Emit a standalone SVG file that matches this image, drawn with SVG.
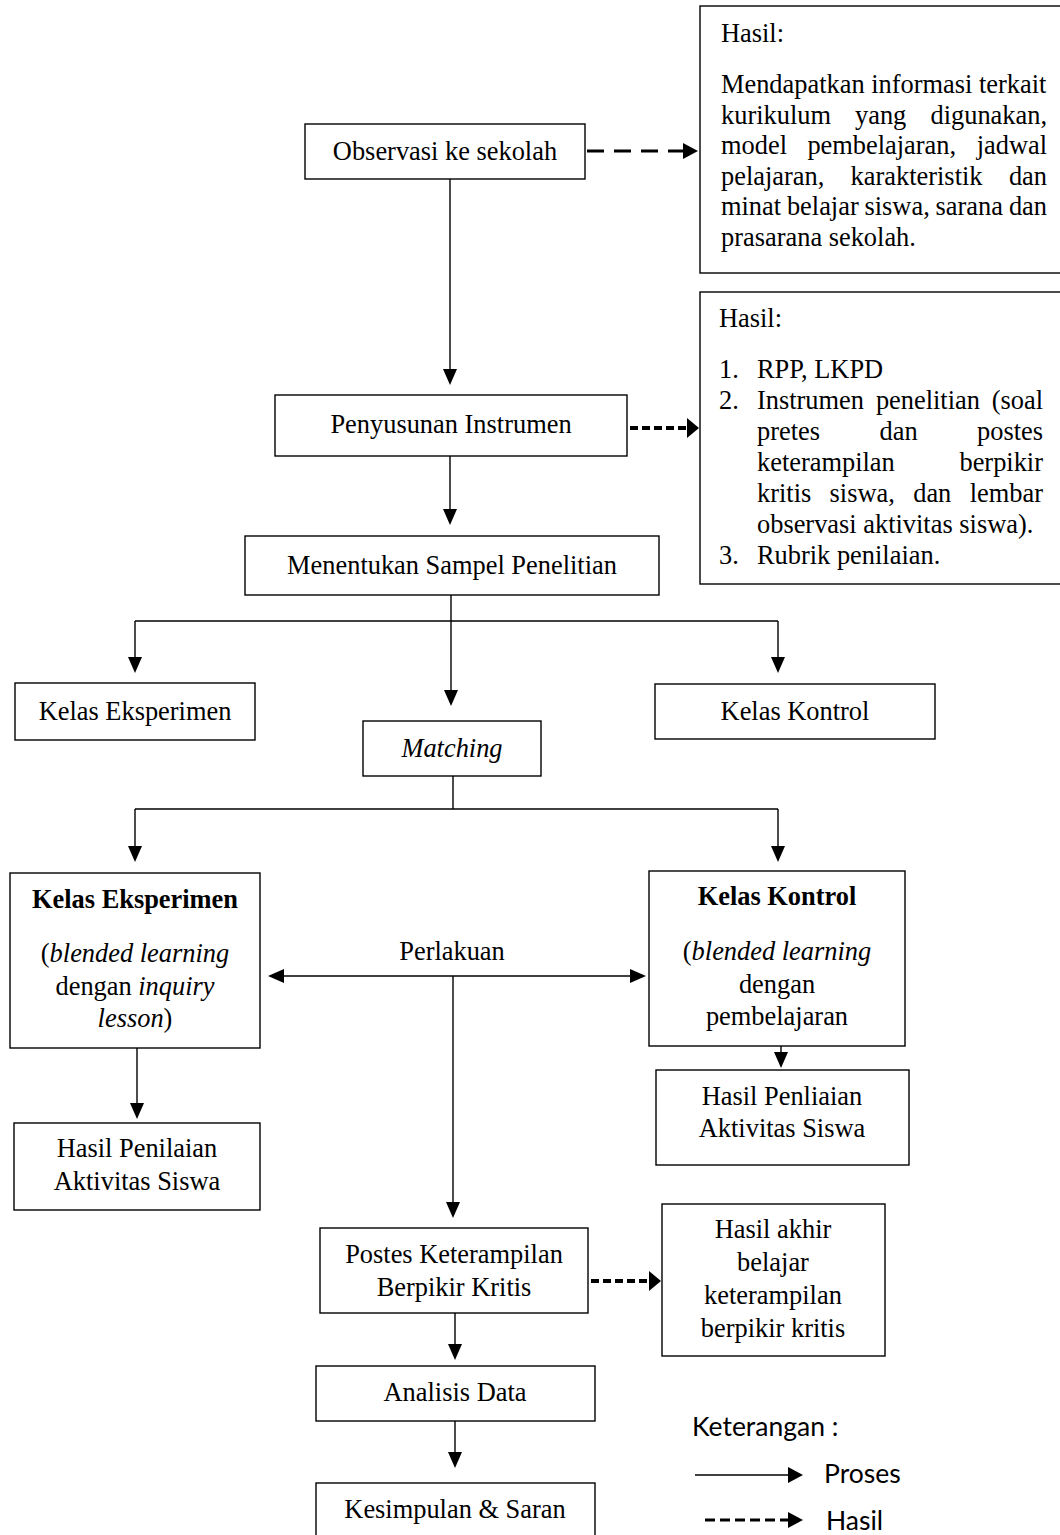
<svg xmlns="http://www.w3.org/2000/svg" width="1060" height="1535" viewBox="0 0 1060 1535">
<style>
.box{fill:#fff;stroke:#000;stroke-width:1.4}
.t{font-family:"Liberation Serif","Times New Roman",serif;font-size:26.4px;fill:#000}
.c{text-anchor:middle}
.e{text-anchor:end}
.i{font-style:italic}
.b{font-weight:bold}
.proc{fill:none;stroke:#000;stroke-width:1.4}
.dash{fill:none;stroke:#000;stroke-width:3;stroke-dasharray:17 10}
.dot{fill:none;stroke:#000;stroke-width:4;stroke-dasharray:8 4}
.leg{font-family:Lato,"Open Sans",sans-serif;font-size:26.5px;fill:#000}
</style>
<defs>
<marker id="ah" markerUnits="userSpaceOnUse" markerWidth="16" markerHeight="14" refX="0" refY="7" orient="auto-start-reverse" overflow="visible"><path d="M0,0 L16,7 L0,14 Z" fill="#000"/></marker>
<marker id="ahd" markerUnits="userSpaceOnUse" markerWidth="15" markerHeight="16" refX="0" refY="8" orient="auto" overflow="visible"><path d="M0,0 L15,8 L0,16 Z" fill="#000"/></marker>
<marker id="aht" markerUnits="userSpaceOnUse" markerWidth="12" markerHeight="20" refX="0" refY="10" orient="auto" overflow="visible"><path d="M0,0 L12,10 L0,20 Z" fill="#000"/></marker>
</defs>
<rect width="1060" height="1535" fill="#fff"/>

<g id="connectors">
<path class="proc" d="M450,179 V369" marker-end="url(#ah)"/>
<path class="proc" d="M450,456 V509" marker-end="url(#ah)"/>
<path class="proc" d="M451,595 V690" marker-end="url(#ah)"/>
<path class="proc" d="M135,621 H778"/>
<path class="proc" d="M135,621 V657" marker-end="url(#ah)"/>
<path class="proc" d="M778,621 V657" marker-end="url(#ah)"/>
<path class="proc" d="M453,776 V809"/>
<path class="proc" d="M135,809 H778"/>
<path class="proc" d="M135,809 V846" marker-end="url(#ah)"/>
<path class="proc" d="M778,809 V846" marker-end="url(#ah)"/>
<path class="proc" d="M284,976 H630" marker-start="url(#ah)" marker-end="url(#ah)"/>
<path class="proc" d="M453,976 V1202" marker-end="url(#ah)"/>
<path class="proc" d="M137,1048 V1103" marker-end="url(#ah)"/>
<path class="proc" d="M781,1046 V1052" marker-end="url(#ah)"/>
<path class="proc" d="M455,1313 V1344" marker-end="url(#ah)"/>
<path class="proc" d="M455,1421 V1452" marker-end="url(#ah)"/>
<path class="dash" d="M587,151 H683" marker-end="url(#ahd)"/>
<path class="dot" d="M630,428 H687" marker-end="url(#aht)"/>
<path class="dot" d="M591,1281 H649" marker-end="url(#aht)"/>
</g>

<g id="observasi">
<rect class="box" x="305" y="124" width="280" height="55"/>
<text class="t c" x="445" y="160">Observasi ke sekolah</text>
</g>

<g id="hasil-observasi">
<rect class="box" x="700" y="6" width="364" height="267"/>
<text class="t" x="721" y="42">Hasil:</text>
<text class="t" x="721" y="93">Mendapatkan informasi terkait</text>
<text class="t" x="721" y="123.5">kurikulum</text>
<text class="t" x="855" y="123.5">yang</text>
<text class="t e" x="1047" y="123.5">digunakan,</text>
<text class="t" x="721" y="154">model</text>
<text class="t" x="807.4" y="154">pembelajaran,</text>
<text class="t e" x="1047" y="154">jadwal</text>
<text class="t" x="721" y="184.5">pelajaran,</text>
<text class="t" x="850.6" y="184.5">karakteristik</text>
<text class="t e" x="1047" y="184.5">dan</text>
<text class="t" x="721" y="215">minat</text>
<text class="t" x="786.9" y="215">belajar</text>
<text class="t" x="864.5" y="215">siswa,</text>
<text class="t" x="935.6" y="215">sarana</text>
<text class="t e" x="1047" y="215">dan</text>
<text class="t" x="721" y="245.5">prasarana sekolah.</text>
</g>

<g id="penyusunan">
<rect class="box" x="275" y="395" width="352" height="61"/>
<text class="t c" x="451" y="433">Penyusunan Instrumen</text>
</g>

<g id="hasil-instrumen">
<rect class="box" x="700" y="292" width="364" height="292"/>
<text class="t" x="719" y="327">Hasil:</text>
<text class="t" x="719" y="378">1.</text>
<text class="t" x="757" y="378">RPP, LKPD</text>
<text class="t" x="719" y="409">2.</text>
<text class="t" x="757" y="409">Instrumen</text>
<text class="t" x="875.9" y="409">penelitian</text>
<text class="t e" x="1043" y="409">(soal</text>
<text class="t" x="757" y="440">pretes</text>
<text class="t" x="879.5" y="440">dan</text>
<text class="t e" x="1043" y="440">postes</text>
<text class="t" x="757" y="471">keterampilan</text>
<text class="t e" x="1043" y="471">berpikir</text>
<text class="t" x="757" y="502">kritis</text>
<text class="t" x="829.6" y="502">siswa,</text>
<text class="t" x="913.2" y="502">dan</text>
<text class="t e" x="1043" y="502">lembar</text>
<text class="t" x="757" y="533">observasi aktivitas siswa).</text>
<text class="t" x="719" y="564">3.</text>
<text class="t" x="757" y="564">Rubrik penilaian.</text>
</g>

<g id="menentukan">
<rect class="box" x="245" y="536" width="414" height="59"/>
<text class="t c" x="452" y="574">Menentukan Sampel Penelitian</text>
</g>

<g id="kelas-eksperimen-1">
<rect class="box" x="15" y="683" width="240" height="57"/>
<text class="t c" x="135" y="720">Kelas Eksperimen</text>
</g>

<g id="kelas-kontrol-1">
<rect class="box" x="655" y="684" width="280" height="55"/>
<text class="t c" x="795" y="720">Kelas Kontrol</text>
</g>

<g id="matching">
<rect class="box" x="363" y="721" width="178" height="55"/>
<text class="t c i" x="452" y="757">Matching</text>
</g>

<g id="kelas-eksperimen-2">
<rect class="box" x="10" y="873" width="250" height="175"/>
<text class="t c b" x="135" y="908">Kelas Eksperimen</text>
<text class="t c" x="135" y="962">(<tspan class="i">blended learning</tspan></text>
<text class="t c" x="135" y="995">dengan <tspan class="i">inquiry</tspan></text>
<text class="t c" x="135" y="1027"><tspan class="i">lesson</tspan>)</text>
</g>

<g id="perlakuan">
<text class="t c" x="452" y="960">Perlakuan</text>
</g>

<g id="kelas-kontrol-2">
<rect class="box" x="649" y="871" width="256" height="175"/>
<text class="t c b" x="777" y="905">Kelas Kontrol</text>
<text class="t c" x="777" y="960">(<tspan class="i">blended learning</tspan></text>
<text class="t c" x="777" y="993">dengan</text>
<text class="t c" x="777" y="1025">pembelajaran</text>
</g>

<g id="hasil-penilaian-eksperimen">
<rect class="box" x="14" y="1123" width="246" height="87"/>
<text class="t c" x="137" y="1157">Hasil Penilaian</text>
<text class="t c" x="137" y="1190">Aktivitas Siswa</text>
</g>

<g id="hasil-penilaian-kontrol">
<rect class="box" x="656" y="1070" width="253" height="95"/>
<text class="t c" x="782" y="1105">Hasil Penliaian</text>
<text class="t c" x="782" y="1137">Aktivitas Siswa</text>
</g>

<g id="postes">
<rect class="box" x="320" y="1228" width="268" height="85"/>
<text class="t c" x="454" y="1263">Postes Keterampilan</text>
<text class="t c" x="454" y="1296">Berpikir Kritis</text>
</g>

<g id="hasil-akhir">
<rect class="box" x="662" y="1204" width="223" height="152"/>
<text class="t c" x="773" y="1238">Hasil akhir</text>
<text class="t c" x="773" y="1271">belajar</text>
<text class="t c" x="773" y="1304">keterampilan</text>
<text class="t c" x="773" y="1337">berpikir kritis</text>
</g>

<g id="analisis">
<rect class="box" x="316" y="1366" width="279" height="55"/>
<text class="t c" x="455" y="1401">Analisis Data</text>
</g>

<g id="kesimpulan">
<rect class="box" x="316" y="1483" width="279" height="70"/>
<text class="t c" x="455" y="1518">Kesimpulan &amp; Saran</text>
</g>

<g id="legend">
<text class="leg" x="692" y="1436">Keterangan :</text>
<path class="proc" d="M695,1475 H788" marker-end="url(#ahd)"/>
<text class="leg" x="824" y="1483">Proses</text>
<path fill="none" stroke="#000" stroke-width="3" stroke-dasharray="10 5" d="M705,1520 H788" marker-end="url(#ahd)"/>
<text class="leg" x="826" y="1530">Hasil</text>
</g>
</svg>
